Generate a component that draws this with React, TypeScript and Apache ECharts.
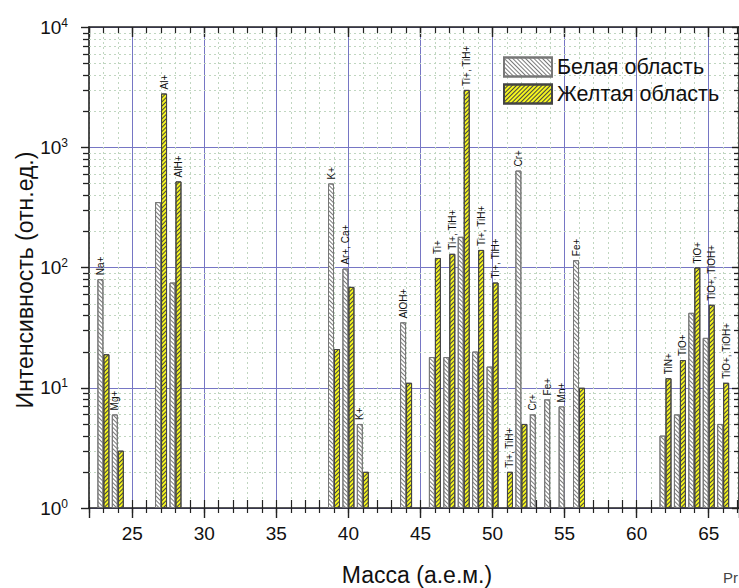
import React, { useEffect, useRef } from 'react';
import * as echarts from 'echarts';

const FONT = "'Liberation Sans', Arial, Helvetica, sans-serif";

// Белая область
const whiteMass = [23, 24, 27, 28, 39, 40, 41, 44, 46, 47, 48, 49, 50, 52, 53, 54, 55, 56, 62, 63, 64, 65, 66];
const whiteValues = [80, 6, 350, 75, 500, 98, 5, 35, 18, 18, 180, 20, 15, 640, 6, 8, 7, 115, 4, 6, 42, 26, 5];
const whiteLabels = ['Na+', 'Mg+', '', '', 'K+', 'Ar+, Ca+', 'K+', 'AlOH+', '', '', '', '', '', 'Cr+', 'Cr+', 'Fe+', 'Mn+', 'Fe+', '', '', '', '', ''];

// Желтая область
const yellowMass = [23, 24, 27, 28, 39, 40, 41, 44, 46, 47, 48, 49, 50, 51, 52, 56, 62, 63, 64, 65, 66];
const yellowValues = [19, 3, 2800, 520, 21, 69, 2, 11, 120, 130, 3000, 140, 75, 2, 5, 10, 12, 17, 100, 49, 11];
const yellowLabels = ['', '', 'Al+', 'AlH+', '', '', '', '', 'Ti+', 'Ti+, TiH+', 'Ti+, TiH+', 'Ti+, TiH+', 'Ti+, TiH+', 'Ti+, TiH+', '', '', 'TiN+', 'TiO+', 'TiO+', 'TiO+, TiOH+', 'TiO+, TiOH+'];

// axis structure
const X_MIN = 22;
const X_MAX = 67.1;
const Y_MIN = 1;
const Y_MAX = 10000;
const decades = [1, 10, 100, 1000];
const minorMultipliers = [2, 3, 4, 5, 6, 7, 8, 9];

const legendNames = ['Белая область', 'Желтая область'];
const xTitle = 'Масса (а.е.м.)';
const yTitle = 'Интенсивность (отн.ед.)';
const cornerText = 'Pr';

const AXIS_COLOR = '#222';
const MAJOR_GRID = '#7676c4';
const MINOR_GRID = '#c0d6c0';

function buildOption(): any {
  const minorY: number[] = [];
  decades.forEach((d) => minorMultipliers.forEach((m) => minorY.push(d * m)));

  const baseX = {
    type: 'value',
    gridIndex: 0,
    min: X_MIN,
    max: X_MAX,
    axisLabel: { show: false },
    splitLine: { show: false },
    axisLine: { show: false, onZero: false },
  };

  const baseY = {
    type: 'log',
    logBase: 10,
    gridIndex: 0,
    min: Y_MIN,
    max: Y_MAX,
    axisLabel: { show: false },
    splitLine: { show: false },
    axisLine: { show: false, onZero: false },
  };

  const labelBase = {
    show: true,
    position: 'top',
    rotate: 90,
    align: 'left',
    verticalAlign: 'middle',
    distance: 4,
    fontSize: 10,
    color: '#111',
    fontFamily: FONT,
  };

  return {
    animation: false,
    backgroundColor: '#ffffff',
    textStyle: { fontFamily: FONT },
    grid: { left: 89, right: 0, top: 27, bottom: 80, containLabel: false, outerBoundsMode: 'none' },
    legend: {
      data: legendNames,
      orient: 'vertical',
      left: 503,
      top: 56,
      itemWidth: 48,
      itemHeight: 19,
      itemGap: 5,
      padding: 0,
      icon: 'rect',
      selectedMode: false,
      textStyle: { fontSize: 21.5, color: '#111', fontFamily: FONT },
    },
    graphic: [
      {
        type: 'text',
        x: 25,
        y: 280,
        rotation: Math.PI / 2,
        style: { text: yTitle, fontSize: 23, fontFamily: FONT, fill: '#111', align: 'center', verticalAlign: 'middle' },
      },
      {
        type: 'text',
        x: 417,
        y: 575,
        style: { text: xTitle, fontSize: 23, fontFamily: FONT, fill: '#111', align: 'center', verticalAlign: 'middle' },
      },
      {
        type: 'text',
        x: 723,
        y: 577,
        style: { text: cornerText, fontSize: 15, fontFamily: FONT, fill: '#444', align: 'left', verticalAlign: 'middle' },
      },
    ],
    xAxis: [
      {
        ...baseX,
        position: 'bottom',
        interval: 1,
        axisLine: { show: true, onZero: false, lineStyle: { color: AXIS_COLOR, width: 1.6 } },
        axisTick: { show: true, inside: true, length: 8, lineStyle: { color: AXIS_COLOR, width: 1.2 } },
        axisLabel: {
          show: true,
          margin: 16,
          fontSize: 19,
          color: '#111',
          fontFamily: FONT,
          formatter: (v: number) => (Math.abs(v % 5) < 1e-9 ? String(v) : ''),
        },
        splitLine: { show: true, lineStyle: { color: MINOR_GRID, width: 1, type: [2, 3] } },
      },
      {
        ...baseX,
        position: 'bottom',
        interval: 1,
        axisTick: { show: true, inside: false, length: 5, lineStyle: { color: AXIS_COLOR, width: 1.2 } },
      },
      {
        ...baseX,
        position: 'bottom',
        splitNumber: 9,
        axisTick: { show: true, inside: false, length: 10, lineStyle: { color: AXIS_COLOR, width: 1.4 } },
        splitLine: { show: true, showMinLine: false, showMaxLine: false, lineStyle: { color: MAJOR_GRID, width: 1 } },
      },
      {
        ...baseX,
        position: 'top',
        interval: 1,
        axisLine: { show: true, onZero: false, lineStyle: { color: AXIS_COLOR, width: 1.6 } },
        axisTick: { show: true, inside: true, length: 6, lineStyle: { color: AXIS_COLOR, width: 1.2 } },
      },
      {
        ...baseX,
        position: 'top',
        splitNumber: 9,
        axisTick: { show: true, inside: true, length: 10, lineStyle: { color: AXIS_COLOR, width: 1.4 } },
      },
    ],
    yAxis: [
      {
        ...baseY,
        position: 'left',
        axisLine: { show: true, onZero: false, lineStyle: { color: AXIS_COLOR, width: 1.6 } },
        axisTick: { show: true, inside: false, length: 8, lineStyle: { color: AXIS_COLOR, width: 1.4 } },
        axisLabel: {
          show: true,
          margin: 21,
          formatter: (v: number) => `{b|10}{s|${Math.round(Math.log10(v))}}`,
          rich: {
            b: { fontSize: 19, color: '#111', fontFamily: FONT },
            s: { fontSize: 12, color: '#111', fontFamily: FONT, padding: [0, 0, 9, 0] },
          },
        },
        splitLine: { show: true, lineStyle: { color: MAJOR_GRID, width: 1 } },
      },
      {
        ...baseY,
        position: 'right',
        axisLine: { show: true, onZero: false, lineStyle: { color: AXIS_COLOR, width: 1.6 } },
        axisTick: { show: true, inside: true, length: 7, lineStyle: { color: AXIS_COLOR, width: 1.4 } },
      },
    ],
    series: [
      {
        type: 'custom',
        name: 'minorTicks',
        xAxisIndex: 0,
        yAxisIndex: 0,
        silent: true,
        z: 1,
        clip: false,
        data: minorY.map((v) => [X_MIN, v]),
        renderItem: (params: any, api: any) => {
          const pt = api.coord([api.value(0), api.value(1)]);
          const cs = params.coordSys;
          const y = Math.round(pt[1]) + 0.5;
          return {
            type: 'group',
            children: [
              {
                type: 'line',
                shape: { x1: cs.x, y1: y, x2: cs.x + cs.width, y2: y },
                style: { stroke: MINOR_GRID, lineWidth: 1, lineDash: [2, 3] },
              },
              {
                type: 'line',
                shape: { x1: cs.x - 6, y1: y, x2: cs.x, y2: y },
                style: { stroke: AXIS_COLOR, lineWidth: 1.3 },
              },
              {
                type: 'line',
                shape: { x1: cs.x + cs.width - 5, y1: y, x2: cs.x + cs.width, y2: y },
                style: { stroke: AXIS_COLOR, lineWidth: 1.3 },
              },
            ],
          };
        },
      },
      {
        type: 'bar',
        name: legendNames[0],
        xAxisIndex: 0,
        yAxisIndex: 0,
        z: 3,
        barWidth: 6,
        barGap: '0%',
        data: whiteMass.map((m, i) => [m, whiteValues[i]]),
        itemStyle: {
          color: '#ffffff',
          borderColor: '#777777',
          borderWidth: 1,
          decal: { symbol: 'rect', symbolSize: 1, dashArrayX: [1, 0], dashArrayY: [1, 2], rotation: Math.PI / 4, color: '#7a7a7a' },
        },
        label: { ...labelBase, formatter: (p: any) => whiteLabels[p.dataIndex] },
      },
      {
        type: 'bar',
        name: legendNames[1],
        xAxisIndex: 0,
        yAxisIndex: 0,
        z: 3,
        barWidth: 6,
        barGap: '0%',
        data: yellowMass.map((m, i) => [m, yellowValues[i]]),
        itemStyle: {
          color: '#f5f51e',
          borderColor: '#444444',
          borderWidth: 1,
          decal: { symbol: 'rect', symbolSize: 1, dashArrayX: [1, 0], dashArrayY: [1, 2], rotation: -Math.PI / 4, color: '#444444' },
        },
        label: { ...labelBase, formatter: (p: any) => yellowLabels[p.dataIndex] },
      },
    ],
  };
}

export default function App() {
  const ref = useRef<HTMLDivElement>(null);
  useEffect(() => {
    if (!ref.current) return;
    const chart = echarts.init(ref.current, null, { renderer: 'svg' });
    chart.setOption(buildOption());
    return () => {
      chart.dispose();
    };
  }, []);
  return (
    <div
      ref={ref}
      style={{ position: 'fixed', left: 0, top: 0, width: 739, height: 588, background: '#ffffff' }}
    />
  );
}
